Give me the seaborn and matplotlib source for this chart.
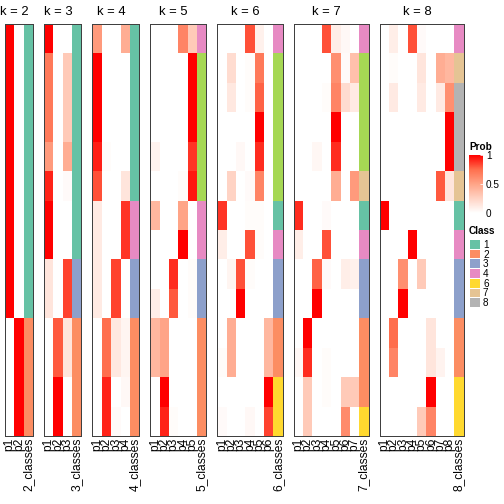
import numpy as np
import pandas as pd
import matplotlib
matplotlib.use('Agg')
import matplotlib.pyplot as plt
from matplotlib.colors import LinearSegmentedColormap, ListedColormap
import seaborn as sns

plt.rcParams['font.family'] = ['Liberation Sans', 'DejaVu Sans']

# membership probabilities per k (rows = samples, top to bottom)
prob_k2 = [[1, 0], [1, 0], [1, 0], [1, 0], [1, 0], [1, 0], [1, 0], [1, 0], [1, 0], [1, 0],
           [0, 1], [0, 1], [0, 1], [0, 1]]
class_k2 = [1, 1, 1, 1, 1, 1, 1, 1, 1, 1, 2, 2, 2, 2]

prob_k3 = [[1, 0, 0], [0.7, 0, 0.3], [0.7, 0, 0.3], [0.7, 0, 0.3], [0.55, 0, 0.45],
           [0.92, 0, 0.03], [1, 0, 0], [1, 0, 0], [0.15, 0, 0.85], [0.15, 0, 0.85],
           [0, 0.8, 0.15], [0, 0.8, 0.15], [0, 1, 0], [0, 1, 0]]
class_k3 = [1, 1, 1, 1, 1, 1, 1, 1, 3, 3, 2, 2, 2, 2]

prob_k4 = [[0.55, 0, 0, 0.45], [1, 0, 0, 0], [1, 0, 0, 0], [1, 0, 0, 0], [0.93, 0.02, 0, 0],
           [0.82, 0, 0, 0.15], [0.12, 0, 0, 0.88], [0.12, 0, 0, 0.88], [0.12, 0, 0.85, 0],
           [0.12, 0, 0.85, 0], [0, 0.75, 0.13, 0.06], [0, 0.75, 0.13, 0.06],
           [0, 0.92, 0, 0.04], [0, 0.92, 0.03, 0]]
class_k4 = [1, 1, 1, 1, 1, 1, 4, 4, 3, 3, 2, 2, 2, 2]

prob_k5 = [[0, 0, 0, 0.65, 0.3], [0, 0, 0, 0, 1], [0, 0, 0, 0, 1], [0, 0, 0, 0, 1],
           [0.07, 0, 0, 0, 0.88], [0, 0, 0, 0.02, 0.95], [0.4, 0, 0, 0.5, 0],
           [0, 0, 0, 1, 0], [0, 0, 0.9, 0, 0.02], [0.1, 0, 0.8, 0, 0.02],
           [0.4, 0.5, 0, 0, 0], [0.4, 0.5, 0, 0, 0], [0, 1, 0, 0, 0], [0, 0.92, 0.02, 0, 0]]
class_k5 = [4, 5, 5, 5, 5, 5, 4, 4, 3, 3, 2, 2, 2, 2]

prob_k6 = [[0, 0, 0, 0.82, 0.08, 0], [0, 0.2, 0, 0.02, 0.7, 0], [0, 0.13, 0, 0.02, 0.78, 0],
           [0, 0, 0, 0, 1, 0], [0, 0, 0.04, 0, 0.9, 0], [0, 0.25, 0, 0.03, 0.65, 0],
           [0.88, 0, 0, 0.02, 0.02, 0], [0.1, 0, 0, 0.82, 0.02, 0], [0, 0.06, 0.82, 0.02, 0, 0],
           [0, 0, 1, 0, 0, 0], [0, 0.45, 0, 0, 0, 0.4], [0.02, 0.45, 0, 0, 0, 0.4],
           [0, 0, 0, 0, 0, 1], [0.03, 0, 0, 0.04, 0, 0.85]]
class_k6 = [4, 5, 5, 5, 5, 5, 1, 4, 3, 3, 2, 2, 6, 6]

prob_k7 = [[0, 0, 0, 0.82, 0.1, 0.04, 0], [0, 0, 0, 0, 0.6, 0.03, 0.35],
           [0, 0, 0, 0.02, 0.65, 0.2, 0.12], [0, 0, 0, 0, 1, 0, 0], [0, 0, 0.05, 0, 0.9, 0, 0],
           [0, 0, 0, 0, 0.45, 0, 0.55], [0.9, 0, 0, 0.03, 0, 0, 0], [0.1, 0, 0, 0.82, 0, 0, 0],
           [0, 0, 0.78, 0.03, 0, 0.1, 0.08], [0, 0, 1, 0, 0, 0, 0], [0, 1, 0, 0, 0, 0, 0],
           [0.04, 0.9, 0, 0.02, 0, 0, 0], [0, 0.3, 0, 0.02, 0, 0.3, 0.3],
           [0, 0.3, 0, 0, 0, 0.62, 0]]
class_k7 = [4, 5, 5, 5, 5, 7, 1, 4, 3, 3, 2, 2, 2, 6]

prob_k8 = [[0, 0.1, 0, 0.82, 0.03, 0, 0, 0], [0, 0.02, 0, 0, 0.15, 0, 0.45, 0.4],
           [0, 0.12, 0, 0, 0.12, 0, 0.12, 0.6], [0, 0, 0, 0, 0, 0, 0, 1],
           [0, 0, 0, 0, 0, 0, 0, 1], [0, 0, 0, 0, 0, 0, 0.8, 0.15], [1, 0, 0, 0, 0, 0, 0, 0],
           [0, 0, 0, 1, 0, 0, 0, 0], [0, 0, 0.6, 0, 0.3, 0, 0, 0], [0, 0, 1, 0, 0, 0, 0, 0],
           [0, 0.75, 0, 0, 0, 0.15, 0, 0], [0, 0.65, 0, 0, 0, 0.15, 0.07, 0],
           [0, 0, 0, 0, 0, 1, 0, 0], [0, 0, 0, 0, 0.3, 0.65, 0, 0]]
class_k8 = [4, 7, 8, 8, 8, 7, 1, 4, 3, 3, 2, 2, 6, 6]

ks = [2, 3, 4, 5, 6, 7, 8]
probs = [prob_k2, prob_k3, prob_k4, prob_k5, prob_k6, prob_k7, prob_k8]
classes = [class_k2, class_k3, class_k4, class_k5, class_k6, class_k7, class_k8]
legend_classes = [1, 2, 3, 4, 6, 7, 8]

class_colors = ['#66C2A5', '#FC8D62', '#8DA0CB', '#E78AC3', '#A6D854', '#FFD92F', '#E5C494', '#B3B3B3']
class_cmap = ListedColormap(class_colors)
prob_cmap = LinearSegmentedColormap.from_list(
    'prob', ['#FFFFFF', '#FFD3C4', '#FFA487', '#FF6F4E', '#FF0000'])

W = H = 504
fig = plt.figure(figsize=(7, 7), dpi=72)


def px(x, y, w, h):
    return [x / W, 1 - (y + h) / H, w / W, h / H]


cw, gap, top, bottom = 9.35, 11, 24, 436
x0 = 5
cax = fig.add_axes(px(469, 155, 14, 58))
for i, (k, p, c) in enumerate(zip(ks, probs, classes)):
    ncol = k + 1
    ax = fig.add_axes(px(x0, top, ncol * cw, bottom - top))
    cols = [f'p{j}' for j in range(1, k + 1)] + [f'{k}_classes']
    df = pd.DataFrame(np.column_stack([np.array(p, float), np.array(c, float)]), columns=cols)
    mask = np.zeros(df.shape, bool)
    mask[:, -1] = True
    sns.heatmap(df, mask=mask, cmap=prob_cmap, vmin=0, vmax=1, ax=ax,
                cbar=(i == 0), cbar_ax=cax if i == 0 else None,
                xticklabels=True, yticklabels=False)
    sns.heatmap(df, mask=~mask, cmap=class_cmap, vmin=0.5, vmax=8.5, cbar=False, ax=ax,
                xticklabels=True, yticklabels=False)
    ax.tick_params(axis='x', length=0, pad=2, labelsize=12, rotation=90)
    ax.text(k / 2, -0.41, f'k = {k}', ha='center', va='center', fontsize=13)
    for s in ax.spines.values():
        s.set_visible(True)
        s.set_color('#404040')
        s.set_linewidth(1)
    x0 += ncol * cw + gap

# probability colour bar
cax.set_yticks([0, 0.5, 1])
cax.set_yticklabels(['0', '0.5', '1'])
cax.tick_params(color='white', direction='in', length=3, labelsize=10, pad=3)
for s in cax.spines.values():
    s.set_visible(False)
fig.text(469 / W, 1 - 147 / H, 'Prob', fontsize=10, fontweight='bold', va='center')

# class legend
fig.text(469 / W, 1 - 231 / H, 'Class', fontsize=10, fontweight='bold', va='center')
lax = fig.add_axes(px(469, 239, 11, 68))
sns.heatmap(pd.DataFrame({'c': legend_classes}), cmap=class_cmap, vmin=0.5, vmax=8.5,
            cbar=False, ax=lax, xticklabels=False, yticklabels=legend_classes,
            linewidths=1, linecolor='white')
lax.yaxis.tick_right()
lax.tick_params(axis='y', length=0, labelsize=10, rotation=0, pad=3)

fig.savefig('out.png', dpi=72)
